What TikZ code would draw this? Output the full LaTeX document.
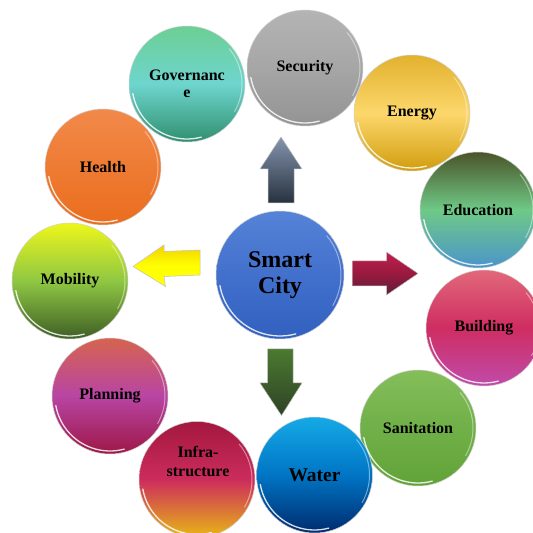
\documentclass[tikz,border=0pt]{standalone}
\usepackage{fontspec}
\setmainfont{Liberation Serif}
\definecolor{secT}{HTML}{B4B4B4}\definecolor{secM}{HTML}{A6A6A6}\definecolor{secB}{HTML}{939393}
\definecolor{govT}{HTML}{6CCF94}\definecolor{govM}{HTML}{6ED5CE}\definecolor{govB}{HTML}{2F8F6E}
\definecolor{eneT}{HTML}{E2B12E}\definecolor{eneM}{HTML}{FCD76B}\definecolor{eneB}{HTML}{D19D0E}
\definecolor{eduT}{HTML}{4B5428}\definecolor{eduM}{HTML}{6FC987}\definecolor{eduB}{HTML}{4A94CC}
\definecolor{buiT}{HTML}{E2687A}\definecolor{buiM}{HTML}{CF2D62}\definecolor{buiB}{HTML}{C04BAA}
\definecolor{sanT}{HTML}{84BE5A}\definecolor{sanM}{HTML}{70B048}\definecolor{sanB}{HTML}{62A338}
\definecolor{watT}{HTML}{15AAE6}\definecolor{watM}{HTML}{0075C5}\definecolor{watB}{HTML}{002B6E}
\definecolor{infT}{HTML}{A3183F}\definecolor{infM}{HTML}{CC2C5C}\definecolor{infB}{HTML}{E8B716}
\definecolor{plaT}{HTML}{D6644E}\definecolor{plaM}{HTML}{B845A4}\definecolor{plaB}{HTML}{9E1746}
\definecolor{mobT}{HTML}{EDF61A}\definecolor{mobM}{HTML}{8FC743}\definecolor{mobB}{HTML}{3E5E25}
\definecolor{heaT}{HTML}{F2894A}\definecolor{heaM}{HTML}{EE7B33}\definecolor{heaB}{HTML}{EA6D1E}
\definecolor{citT}{HTML}{5583D8}\definecolor{citM}{HTML}{4270CC}\definecolor{citB}{HTML}{3160C0}
\definecolor{upT}{HTML}{8494AE}\definecolor{upB}{HTML}{27323F}
\definecolor{rtT}{HTML}{C0204E}\definecolor{rtB}{HTML}{5C1E3C}
\definecolor{lfT}{HTML}{F2D200}\definecolor{lfB}{HTML}{FFFF10}
\definecolor{dnT}{HTML}{4B7A30}\definecolor{dnB}{HTML}{2E4226}
\begin{document}
\begin{tikzpicture}[x=1pt,y=1pt,
  ball/.style={circle, minimum size=116pt, inner sep=0pt, draw=black!18, line width=0.5pt,
    align=center, font=\fontsize{16}{17}\selectfont\bfseries},
  shade3/.style n args={3}{top color=#1, bottom color=#3, middle color=#2},
  lbl/.style={align=center, font=\fontsize{16}{19}\selectfont\bfseries},
  blockarrow/.style={draw=white!75!black, line width=0.5pt}
]
\clip (0,0) rectangle (533,533);
% outer circles
\node[ball, shade3={secT}{secM}{secB}] (sec) at (305,465) {Security};
\node[ball, shade3={govT}{govM}{govB}] (gov) at (187,449) {Governanc\\e};
\node[ball, shade3={eneT}{eneM}{eneB}] (ene) at (412,420) {Energy};
\node[ball, shade3={heaT}{heaM}{heaB}] (hea) at (103,366) {Health};
\node[ball, shade3={eduT}{eduM}{eduB}] (edu) at (478,323) {Education};
\node[ball, shade3={mobT}{mobM}{mobB}] (mob) at (70,252) {Mobility};
\node[ball, shade3={buiT}{buiM}{buiB}] (bui) at (484,205) {Building};
\node[ball, shade3={plaT}{plaM}{plaB}] (pla) at (110,137) {Planning};
\node[ball, shade3={sanT}{sanM}{sanB}] (san) at (418,105) {Sanitation};
\node[ball, shade3={infT}{infM}{infB}] (inf) at (197,53.5) {};
\node[lbl] (inftext) at (198,71.5) {Infra-\\structure};
\node[ball, shade3={watT}{watM}{watB}, font=\fontsize{19.5}{20}\selectfont\bfseries] (wat) at (314.5,58) {Water};
% centre
\node[ball, minimum size=128pt, shade3={citT}{citM}{citB}, font=\fontsize{24}{25.5}\selectfont\bfseries] (city) at (280,258) {Smart\\City};
% highlights
\foreach \n/\r in {sec/55,gov/55,ene/55,hea/55,edu/55,mob/55,bui/55,pla/55,san/55,inf/55,wat/55,city/61}{
  \draw[white, opacity=0.85, line width=1.3pt, line cap=round] (\n.center) ++(190:\r) arc[start angle=190, end angle=285, radius=\r];
  \draw[white, opacity=0.45, line width=1pt, line cap=round] (\n.center) ++(-30:\r) arc[start angle=-30, end angle=40, radius=\r];
}
% block arrows
\shade[blockarrow, top color=upT, bottom color=upB]
  (268,330) -- (268,364) -- (260,364) -- (281,396) -- (302,364) -- (294,364) -- (294,330) -- cycle;
\shade[blockarrow, top color=rtT, bottom color=rtB, middle color=rtT!80!black]
  (352.5,247) -- (352.5,272) -- (386.5,272) -- (386.5,281) -- (418,259.5) -- (386.5,238) -- (386.5,247) -- cycle;
\shade[blockarrow, top color=lfT, bottom color=lfB, middle color=yellow]
  (133,266.5) -- (164,288) -- (164,281.5) -- (200,283) -- (200,258) -- (164,256.5) -- (165.5,246.5) -- cycle;
\shade[blockarrow, top color=dnT, bottom color=dnB]
  (267.5,184) -- (293,184) -- (293,150) -- (302,150) -- (281.5,117.5) -- (260,150) -- (267.5,150) -- cycle;
\end{tikzpicture}
\end{document}
